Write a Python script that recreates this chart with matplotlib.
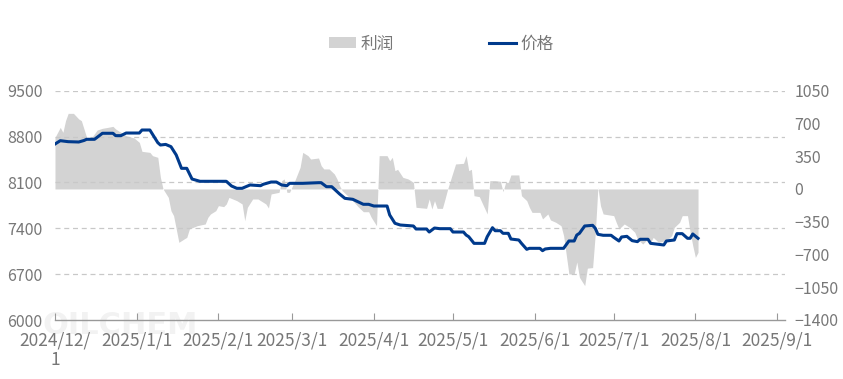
import matplotlib
matplotlib.use("Agg")
import matplotlib.pyplot as plt
import pandas as pd
from matplotlib.patches import Patch
from matplotlib.lines import Line2D

plt.rcParams['font.family'] = ['Noto Sans CJK SC', 'DejaVu Sans']

price_dates = ["2024-12-01","2024-12-03","2024-12-06","2024-12-10","2024-12-12","2024-12-13","2024-12-16",
    "2024-12-19","2024-12-23","2024-12-24","2024-12-26","2024-12-28","2025-01-02","2025-01-03","2025-01-06",
    "2025-01-09","2025-01-10","2025-01-12","2025-01-14","2025-01-16","2025-01-18","2025-01-20","2025-01-22",
    "2025-01-25","2025-02-04","2025-02-06","2025-02-08","2025-02-10","2025-02-13","2025-02-17","2025-02-18",
    "2025-02-21","2025-02-23","2025-02-25","2025-02-27","2025-02-28","2025-03-05","2025-03-11","2025-03-12",
    "2025-03-14","2025-03-16","2025-03-19","2025-03-21","2025-03-24","2025-03-28","2025-03-30","2025-04-01",
    "2025-04-06","2025-04-07","2025-04-09","2025-04-11","2025-04-16","2025-04-17","2025-04-21","2025-04-22",
    "2025-04-24","2025-04-26","2025-04-30","2025-05-01","2025-05-05","2025-05-06","2025-05-07","2025-05-09",
    "2025-05-13","2025-05-14","2025-05-16","2025-05-17","2025-05-19","2025-05-20","2025-05-22","2025-05-23",
    "2025-05-26","2025-05-27","2025-05-29","2025-05-30","2025-06-03","2025-06-04","2025-06-05","2025-06-07",
    "2025-06-12","2025-06-14","2025-06-16","2025-06-17","2025-06-18","2025-06-20","2025-06-23","2025-06-24",
    "2025-06-25","2025-06-27","2025-06-30","2025-07-01","2025-07-03","2025-07-04","2025-07-06","2025-07-08",
    "2025-07-10","2025-07-11","2025-07-14","2025-07-15","2025-07-17","2025-07-20","2025-07-21","2025-07-24",
    "2025-07-25","2025-07-27","2025-07-29","2025-07-30","2025-07-31","2025-08-02"]
price_values = [8686,8737,8722,8717,8740,8758,8758,
    8850,8850,8814,8814,8854,8854,8900,8900,
    8707,8671,8680,8646,8519,8315,8315,8152,
    8117,8117,8045,8010,8010,8061,8050,8071,
    8106,8106,8061,8050,8086,8086,8096,8096,
    8035,8035,7923,7857,7842,7766,7766,7740,
    7740,7603,7476,7450,7435,7389,7389,7343,
    7404,7394,7394,7343,7343,7297,7271,7170,
    7170,7271,7409,7363,7363,7323,7323,7236,
    7221,7170,7079,7094,7094,7058,7084,7094,
    7094,7206,7206,7297,7323,7435,7445,7400,
    7308,7293,7293,7262,7206,7267,7277,7211,
    7196,7232,7232,7170,7160,7145,7206,7221,
    7318,7318,7247,7247,7313,7247]

profit_dates = ["2024-12-01","2024-12-02","2024-12-03","2024-12-04","2024-12-05","2024-12-06","2024-12-08",
    "2024-12-10","2024-12-11","2024-12-13","2024-12-15","2024-12-17","2024-12-19","2024-12-21","2024-12-23",
    "2024-12-24","2024-12-26","2024-12-28","2024-12-31","2025-01-02","2025-01-03","2025-01-06","2025-01-07",
    "2025-01-09","2025-01-10","2025-01-11","2025-01-13","2025-01-14","2025-01-15","2025-01-16","2025-01-17",
    "2025-01-19","2025-01-20","2025-01-21","2025-01-24","2025-01-27","2025-01-28","2025-01-29","2025-01-31",
    "2025-02-01","2025-02-03","2025-02-04","2025-02-05","2025-02-08","2025-02-10","2025-02-11","2025-02-12",
    "2025-02-14","2025-02-16","2025-02-19","2025-02-20","2025-02-21","2025-02-24","2025-02-25","2025-02-26",
    "2025-02-27","2025-02-28","2025-03-02","2025-03-04","2025-03-05","2025-03-07","2025-03-08","2025-03-11",
    "2025-03-12","2025-03-13","2025-03-15","2025-03-17","2025-03-18","2025-03-19","2025-03-20","2025-03-22",
    "2025-03-24","2025-03-26","2025-03-28","2025-03-30","2025-03-31","2025-04-02","2025-04-03","2025-04-06",
    "2025-04-07","2025-04-08","2025-04-09","2025-04-10","2025-04-12","2025-04-14","2025-04-16","2025-04-17",
    "2025-04-21","2025-04-22","2025-04-23","2025-04-24","2025-04-25","2025-04-27","2025-04-28","2025-04-29",
    "2025-04-30","2025-05-02","2025-05-05","2025-05-06","2025-05-07","2025-05-08","2025-05-09","2025-05-11",
    "2025-05-14","2025-05-15","2025-05-17","2025-05-19","2025-05-20","2025-05-21","2025-05-22","2025-05-23",
    "2025-05-26","2025-05-27","2025-05-29","2025-05-30","2025-05-31","2025-06-03","2025-06-04","2025-06-06",
    "2025-06-07","2025-06-09","2025-06-11","2025-06-12","2025-06-14","2025-06-16","2025-06-17","2025-06-18",
    "2025-06-20","2025-06-21","2025-06-23","2025-06-24","2025-06-25","2025-06-26","2025-06-27","2025-07-01",
    "2025-07-02","2025-07-03","2025-07-05","2025-07-07","2025-07-09","2025-07-10","2025-07-12","2025-07-14",
    "2025-07-15","2025-07-16","2025-07-18","2025-07-21","2025-07-23","2025-07-24","2025-07-26","2025-07-27",
    "2025-07-29","2025-07-30","2025-07-31","2025-08-01","2025-08-02"]
profit_values = [551,605,658,605,730,808,808,
    748,730,551,551,630,648,658,669,
    641,605,569,545,498,402,391,356,
    338,124,0,-90,-232,-285,-427,-570,
    -534,-517,-427,-392,-374,-303,-267,-232,
    -178,-189,-160,-90,-125,-160,-339,-196,
    -107,-107,-160,-203,-53,-36,89,107,
    -36,-36,89,231,391,356,320,331,
    249,214,214,160,107,35,-18,-72,
    -125,-189,-243,-243,-303,-392,356,356,
    302,338,196,210,124,107,71,-196,
    -207,-107,-214,-125,-207,-207,-107,0,
    89,267,274,356,196,210,-72,-82,
    -267,89,89,82,-29,71,71,150,
    150,-72,-125,-196,-250,-250,-320,-267,
    -331,-356,-392,-499,-908,-908,-780,-944,
    -1033,-846,-840,-480,17,-180,-267,-285,
    -360,-427,-374,-410,-463,-534,-588,-534,
    -570,-517,-570,-552,-499,-410,-356,-285,
    -285,-460,-606,-731,-677]

x_ticks = ["2024-12-01","2025-01-01","2025-02-01","2025-03-01","2025-04-01","2025-05-01",
           "2025-06-01","2025-07-01","2025-08-01","2025-09-01"]
x_tick_labels = ["2024/12/\n1","2025/1/1","2025/2/1","2025/3/1","2025/4/1","2025/5/1",
                 "2025/6/1","2025/7/1","2025/8/1","2025/9/1"]
left_ticks = [6000, 6700, 7400, 8100, 8800, 9500]
right_ticks = [-1400, -1050, -700, -350, 0, 350, 700, 1050]

pd_price = pd.to_datetime(price_dates)
pd_profit = pd.to_datetime(profit_dates)

txt = '#777777'
fs = 11.5
fig = plt.figure(figsize=(8.43, 3.79), dpi=100)
ax = fig.add_axes([55/843, 59/379, 730/843, 229.3/379])
ax2 = ax.twinx()

# watermark
fig.text(43/843, 1 - 325/379, "OILCHEM", fontsize=22, color='#000000', alpha=0.05,
         fontweight='bold', family='DejaVu Sans', va='center', ha='left', zorder=0)

ax2.fill_between(pd_profit, profit_values, 0, color='#d3d3d3', linewidth=0, zorder=1)
ax2.set_ylim(-1400, 1050)
ax2.set_yticks(right_ticks)
ax2.tick_params(axis='y', length=0, pad=7, labelsize=fs, labelcolor=txt)

ax.set_zorder(ax2.get_zorder() + 1)
ax.patch.set_visible(False)
ax.plot(pd_price, price_values, color='#003a8c', linewidth=2.2, zorder=3)
ax.set_ylim(6000, 9500)
ax.set_yticks(left_ticks)
ax.tick_params(axis='y', length=0, pad=9, labelsize=fs, labelcolor=txt)
for t in left_ticks[1:]:
    ax.axhline(t, color='#c8c8c8', linestyle=(0, (4, 3)), linewidth=0.9, zorder=0)

ax.set_xlim(pd.Timestamp("2024-12-01"), pd.Timestamp("2025-09-04"))
ax.set_xticks(pd.to_datetime(x_ticks))
ax.set_xticklabels(x_tick_labels, linespacing=1.1)
ax.tick_params(axis='x', direction='in', length=5, color='#999999', pad=8,
               labelsize=12.5, labelcolor=txt)

for a in (ax, ax2):
    for s in ('left', 'right', 'top'):
        a.spines[s].set_visible(False)
ax2.spines['bottom'].set_visible(False)
ax.spines['bottom'].set_color('#999999')
ax.spines['bottom'].set_linewidth(1.0)

handles = [Patch(facecolor='#d3d3d3', edgecolor='none'),
           Line2D([0], [0], color='#003a8c', linewidth=2.2)]
leg = fig.legend(handles, ["利润", "价格"], loc='center', bbox_to_anchor=(441/843, 1 - 44/379),
                 ncol=2, frameon=False, fontsize=12, labelcolor=txt,
                 handlelength=1.65, handleheight=0.66, columnspacing=5.7, handletextpad=0.25)

fig.savefig("out.png", dpi=100)
